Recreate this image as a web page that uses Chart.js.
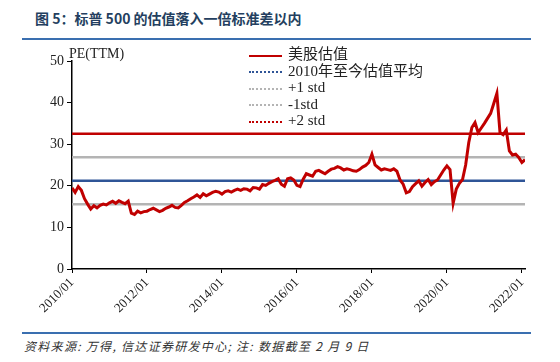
<!DOCTYPE html>
<html>
<head>
<meta charset="utf-8">
<script src="https://cdn.jsdelivr.net/npm/chart.js@4"></script>
<style>
  body { margin: 0; background: #fff; width: 560px; height: 362px; overflow: hidden; position: relative; }
  .title { position: absolute; left: 35px; top: 8px; font: bold 14px "Noto Sans CJK SC", sans-serif; color: #243f60; letter-spacing: 0; white-space: nowrap; }
  .rule { position: absolute; left: 22px; width: 509px; height: 2px; background: #3a6fb0; }
  .foot { position: absolute; left: 24px; top: 337px; font: italic 12px "Noto Sans CJK SC", sans-serif; color: #333; letter-spacing: 1.3px; white-space: nowrap; }
  .unit { position: absolute; left: 69px; top: 46px; font: 14px "Liberation Serif", serif; color: #222; }
  .legend { position: absolute; left: 249px; top: 46px; font: 15px "Liberation Serif", "Noto Sans CJK SC", serif; color: #222; }
  .legend div { height: 16.5px; line-height: 16.5px; white-space: nowrap; }
  .legend span.s { display: inline-block; width: 33px; margin-right: 6px; vertical-align: middle; }
  #wrap { position: absolute; left: 0; top: 40px; width: 560px; height: 290px; }
</style>
</head>
<body>
<div class="title">图 5：标普 500 的估值落入一倍标准差以内</div>
<div class="rule" style="top:38px"></div>
<div id="wrap"><canvas id="chart"></canvas></div>
<div class="unit">PE(TTM)</div>
<div class="legend" id="legend"></div>
<div class="rule" style="top:332px"></div>
<div class="foot">资料来源: 万得, 信达证券研发中心; 注: 数据截至 2 月 9 日</div>
<script>
// monthly PE(TTM), 2010/01 .. 2022/02
const startYear = 2010;
const pe = [
  19.5, 18.4, 19.8, 18.9, 16.9, 15.6, 14.4, 15.2, 14.7, 15.3, 15.6, 15.4, // 2010
  15.9, 16.3, 15.8, 16.4, 16.0, 15.7, 16.3, 13.4, 13.1, 13.9, 13.5, 13.8, // 2011
  13.9, 14.3, 14.6, 14.2, 13.8, 14.1, 14.6, 14.9, 15.3, 14.8, 14.7, 15.3, // 2012
  16.0, 16.4, 16.9, 17.3, 17.8, 17.2, 18.1, 17.6, 18.0, 18.4, 18.7, 18.5, // 2013
  18.0, 18.6, 18.8, 18.5, 18.9, 19.2, 18.9, 19.3, 19.2, 18.8, 19.6, 19.5, // 2014
  19.2, 20.3, 20.1, 20.6, 21.0, 21.3, 21.7, 20.4, 19.9, 21.7, 21.9, 21.4, // 2015
  20.1, 19.8, 21.6, 22.9, 22.6, 22.3, 23.5, 23.7, 23.3, 22.9, 23.5, 24.0, // 2016
  24.2, 24.6, 24.3, 23.8, 24.1, 23.9, 23.6, 23.5, 23.9, 24.5, 24.9, 25.6, // 2017
  27.6, 25.0, 24.4, 23.8, 24.1, 23.9, 23.7, 24.1, 23.5, 21.4, 20.4, 18.3, // 2018
  18.6, 19.8, 20.5, 21.2, 19.9, 20.8, 21.5, 20.3, 21.0, 21.4, 22.6, 23.8, // 2019
  24.8, 23.9, 15.8, 19.2, 20.6, 21.5, 25.0, 30.4, 34.0, 35.2, 32.8, 33.9, // 2020
  35.0, 36.2, 37.4, 39.8, 42.2, 32.8, 32.3, 33.4, 28.4, 27.4, 27.6, 26.8, // 2021
  25.6, 26.3                                                              // 2022
];
const peMean = 21.2;
const peStd = 5.65;
const tickLabels = ["2010/01", "2012/01", "2014/01", "2016/01", "2018/01", "2020/01", "2022/01"];
const seriesNames = ["美股估值", "2010年至今估值平均", "+1 std", "-1std", "+2 std"];
const seriesColors = ["#c00000", "#2f5597", "#b4b4b4", "#b4b4b4", "#c00000"];

const lastIdx = pe.length - 1;
const flat = (v) => [{ x: 0, y: v }, { x: lastIdx, y: v }];

// legend (solid for the series, dotted for reference lines)
const legend = document.getElementById("legend");
seriesNames.forEach((name, i) => {
  const row = document.createElement("div");
  const s = document.createElement("span");
  s.className = "s";
  s.style.borderTop = i === 0 ? "2.5px solid " + seriesColors[i] : "2px dotted " + seriesColors[i];
  row.appendChild(s);
  row.appendChild(document.createTextNode(name));
  legend.appendChild(row);
});

const serif = "'Liberation Serif', serif";

new Chart(document.getElementById("chart"), {
  type: "line",
  data: {
    datasets: [
      {
        label: seriesNames[0],
        data: pe.map((v, i) => ({ x: i, y: v })),
        borderColor: seriesColors[0],
        borderWidth: 3,
        pointRadius: 0,
        tension: 0,
        order: 0,
      },
      { label: seriesNames[1], data: flat(peMean), borderColor: seriesColors[1], borderWidth: 2.5, pointRadius: 0, order: 1 },
      { label: seriesNames[2], data: flat(peMean + peStd), borderColor: seriesColors[2], borderWidth: 2.5, pointRadius: 0, order: 1 },
      { label: seriesNames[3], data: flat(peMean - peStd), borderColor: seriesColors[3], borderWidth: 2.5, pointRadius: 0, order: 1 },
      { label: seriesNames[4], data: flat(peMean + 2 * peStd), borderColor: seriesColors[4], borderWidth: 2.5, pointRadius: 0, order: 1 },
    ],
  },
  options: {
    animation: false,
    responsive: true,
    maintainAspectRatio: false,
    layout: { padding: { top: 21, right: 35, left: 0, bottom: 0 } },
    plugins: { legend: { display: false }, tooltip: { enabled: false } },
    scales: {
      x: {
        type: "linear",
        min: 0,
        max: lastIdx,
        afterFit(scale) { scale.height = 61; },
        afterBuildTicks(scale) {
          scale.ticks = tickLabels.map((_, i) => ({ value: i * 24 }));
        },
        ticks: {
          minRotation: 45,
          maxRotation: 45,
          autoSkip: false,
          padding: 2,
          color: "#222",
          font: { family: serif, size: 13 },
          callback: (v) => tickLabels[v / 24],
        },
        grid: { drawOnChartArea: false, color: "#000", tickLength: 4 },
        border: { color: "#000", width: 1.5 },
      },
      y: {
        min: 0,
        max: 50,
        afterFit(scale) { scale.width = 72; },
        ticks: {
          stepSize: 10,
          padding: 3,
          color: "#222",
          font: { family: serif, size: 14 },
        },
        grid: { drawOnChartArea: false, color: "#000", tickLength: 5 },
        border: { color: "#000", width: 1.5 },
      },
    },
  },
});
</script>
</body>
</html>
